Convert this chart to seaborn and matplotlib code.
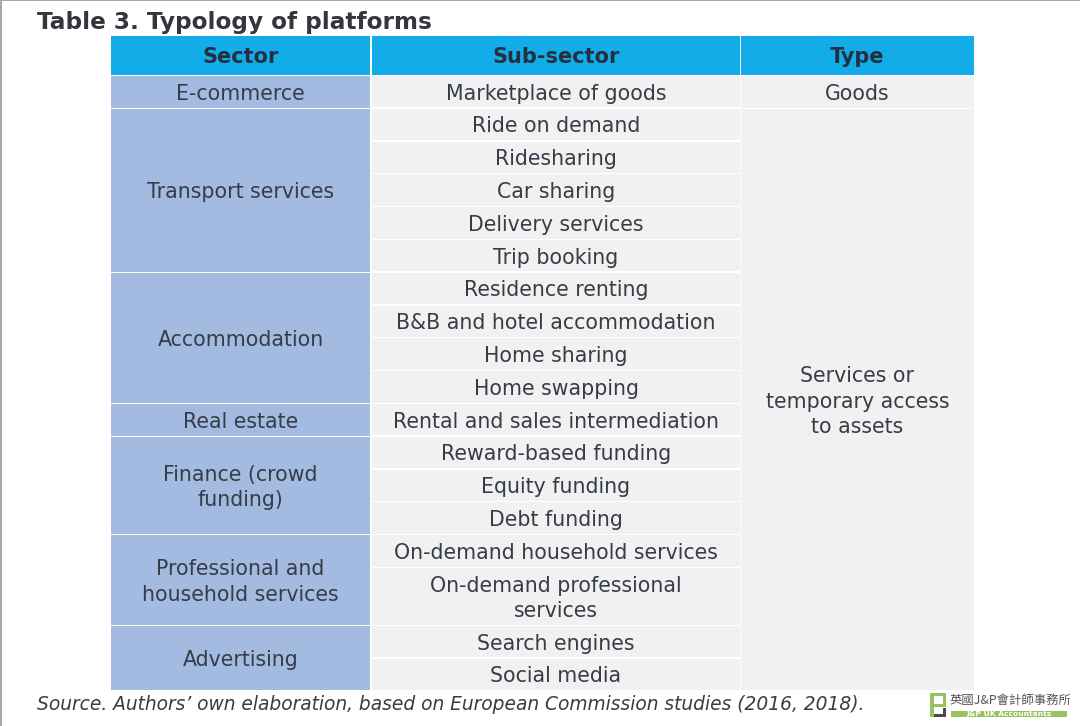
import matplotlib
matplotlib.use("Agg")
import matplotlib.pyplot as plt
from matplotlib.patches import Rectangle
import seaborn as sns

title = "Table 3. Typology of platforms"
source = "Source. Authors\u2019 own elaboration, based on European Commission studies (2016, 2018)."
headers = ["Sector", "Sub-sector", "Type"]
sectors = ["E-commerce", "Transport services", "Accommodation", "Real estate",
           "Finance (crowd\nfunding)", "Professional and\nhousehold services", "Advertising"]
sector_spans = [1, 5, 4, 1, 3, 2, 2]
subsectors = ["Marketplace of goods", "Ride on demand", "Ridesharing", "Car sharing",
              "Delivery services", "Trip booking", "Residence renting",
              "B&B and hotel accommodation", "Home sharing", "Home swapping",
              "Rental and sales intermediation", "Reward-based funding", "Equity funding",
              "Debt funding", "On-demand household services",
              "On-demand professional\nservices", "Search engines", "Social media"]
types = ["Goods", "Services or\ntemporary access\nto assets"]
type_spans = [1, 17]
logo_cn = "英國J&P會計師事務所"
logo_en = "J&P UK Accountants"

sns.set_theme(style="white")
W, H = 1080, 726
fig = plt.figure(figsize=(W / 100, H / 100), dpi=100, facecolor="white")
ax = fig.add_axes([0, 0, 1, 1])
ax.set_xlim(0, W)
ax.set_ylim(H, 0)
ax.axis("off")

INK = "#363c48"
BLUE = "#12ade8"
SECT = "#a3bbe0"
CELL = "#f1f1f1"
COLS = [(111, 370), (372, 740), (741, 974)]
FS = 14.8
LS = 1.34


def cell(col, y0, y1, fc, txt=None, **kw):
    x0, x1 = COLS[col]
    ax.add_patch(Rectangle((x0, y0), x1 - x0, y1 - y0, fc=fc, ec="none", zorder=1))
    if txt:
        kw.setdefault("fontsize", FS)
        kw.setdefault("color", INK)
        ax.text((x0 + x1) / 2, (y0 + y1) / 2 + 2, txt, ha="center", va="center",
                linespacing=LS, zorder=3, **kw)


# header
for c, h in enumerate(headers):
    cell(c, 36, 74.5, BLUE, h, fontweight="bold", fontsize=15.0, color="#24303f")

# row edges
TOP, RH, RH2 = 76, 32.8, 58
edges = [TOP]
for s in subsectors:
    edges.append(edges[-1] + (RH2 if "\n" in s else RH))

for i, s in enumerate(subsectors):
    cell(1, edges[i], edges[i + 1] - 1.5, CELL, s)


def spans(col, labels, counts, fc, gap):
    k = 0
    for lab, n in zip(labels, counts):
        cell(col, edges[k], edges[k + n] - gap, fc, lab)
        k += n


spans(0, sectors, sector_spans, SECT, 1.2)
spans(2, types, type_spans, CELL, 1.2)

# title, source
ax.text(37, 22.5, title, ha="left", va="center", fontsize=16.62, fontweight="bold", color="#33373d")
ax.text(37, 704, source, ha="left", va="center", fontsize=13.38, fontstyle="italic", color="#3c3c3c")

# page border
ax.add_patch(Rectangle((0, 0), W, 1.2, fc="#a8a8a8", ec="none"))
ax.add_patch(Rectangle((0, 0), 1.5, H, fc="#a8a8a8", ec="none"))

# logo
GREEN = "#98c15f"
ax.add_patch(Rectangle((930, 693), 16, 3, fc=GREEN, ec="none", zorder=4))
ax.add_patch(Rectangle((930, 693), 4, 24, fc=GREEN, ec="none", zorder=4))
ax.add_patch(Rectangle((943, 693), 3, 14, fc=GREEN, ec="none", zorder=4))
ax.add_patch(Rectangle((930, 704), 16, 3, fc=GREEN, ec="none", zorder=4))
ax.add_patch(Rectangle((934, 714), 12, 3, fc="#4a4a4a", ec="none", zorder=4))
ax.add_patch(Rectangle((943, 708), 3, 9, fc="#4a4a4a", ec="none", zorder=4))
ax.add_patch(Rectangle((951, 711), 116, 6, fc=GREEN, ec="none", zorder=4))
ax.text(950, 700.5, logo_cn, ha="left", va="center", fontsize=8.9, color="#555555",
        family=["Noto Sans CJK TC", "DejaVu Sans"], zorder=5)
ax.text(1009, 714, logo_en, ha="center", va="center", fontsize=5.4, fontweight="bold",
        color="white", zorder=5)

fig.savefig("out.png", dpi=100)
